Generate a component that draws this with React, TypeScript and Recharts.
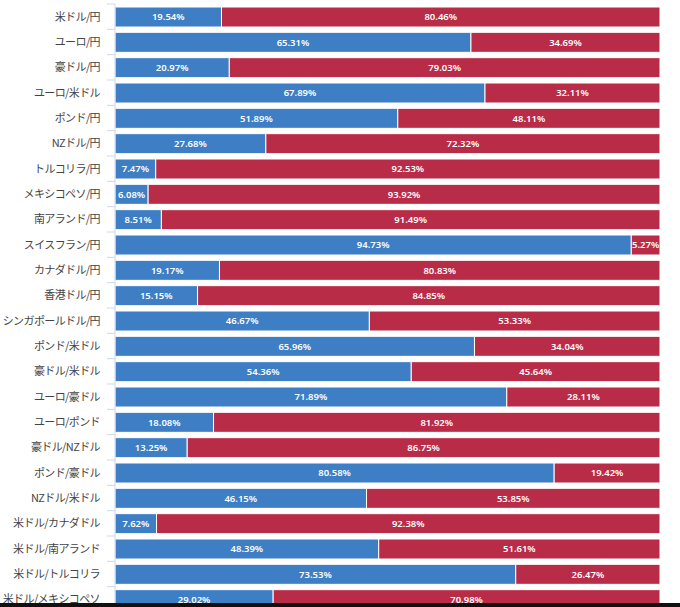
import React from 'react';
import { BarChart, Bar, XAxis, YAxis, LabelList } from 'recharts';

// currency pairs, top to bottom
const pairs = [
    '米ドル/円', 'ユーロ/円', '豪ドル/円', 'ユーロ/米ドル', 'ポンド/円', 'NZドル/円',
    'トルコリラ/円', 'メキシコペソ/円', '南アランド/円', 'スイスフラン/円', 'カナダドル/円', '香港ドル/円',
    'シンガポールドル/円', 'ポンド/米ドル', '豪ドル/米ドル', 'ユーロ/豪ドル', 'ユーロ/ポンド', '豪ドル/NZドル',
    'ポンド/豪ドル', 'NZドル/米ドル', '米ドル/カナダドル', '米ドル/南アランド', '米ドル/トルコリラ', '米ドル/メキシコペソ',
];

const buyShare = [
    19.54, 65.31, 20.97, 67.89, 51.89, 27.68,
    7.47, 6.08, 8.51, 94.73, 19.17, 15.15,
    46.67, 65.96, 54.36, 71.89, 18.08, 13.25,
    80.58, 46.15, 7.62, 48.39, 73.53, 29.02,
];

const sellShare = [
    80.46, 34.69, 79.03, 32.11, 48.11, 72.32,
    92.53, 93.92, 91.49, 5.27, 80.83, 84.85,
    53.33, 34.04, 45.64, 28.11, 81.92, 86.75,
    19.42, 53.85, 92.38, 51.61, 26.47, 70.98,
];

const WIDTH = 680;
const HEIGHT = 612;
const MARGIN = { top: 4, right: 20, bottom: 0, left: 0 };
const BAND = (HEIGHT - MARGIN.top - MARGIN.bottom) / pairs.length;

const rows = pairs.map((name, i) => ({ name, buy: buyShare[i], sell: sellShare[i] }));

const PairTick = (props: any) => {
    const { x, y, payload } = props;
    return (
        <g>
            <line x1={x - 8} x2={x} y1={y - BAND / 2} y2={y - BAND / 2} stroke="#ccd6eb" strokeWidth={1} />
            <text
                x={x - 15}
                y={y}
                dy={4}
                textAnchor="end"
                fill="#444"
                fontSize={11}
                letterSpacing={-0.6}
                fontFamily='"Noto Sans CJK JP", sans-serif'
            >
                {payload.value}
            </text>
        </g>
    );
};

const pct = (v: any) => `${Number(v).toFixed(2)}%`;

const labelStyle = {
    fill: '#fff',
    fontSize: 9.5,
    fontWeight: 600,
    fontFamily: '"Noto Sans", sans-serif',
};

const App: React.FC = () => {
    return (
        <div style={{ position: 'fixed', left: 0, top: 0, width: WIDTH, height: 607, overflow: 'hidden', background: '#fff' }}>
            <BarChart
                width={WIDTH}
                height={HEIGHT}
                data={rows}
                layout="vertical"
                margin={MARGIN}
                barSize={20}
            >
                <XAxis type="number" domain={[0, 100]} hide />
                <YAxis
                    type="category"
                    dataKey="name"
                    width={115}
                    interval={0}
                    tickSize={0}
                    tickMargin={0}
                    tickLine={false}
                    axisLine={{ stroke: '#ccd6eb' }}
                    tick={<PairTick />}
                />
                <Bar dataKey="buy" stackId="a" fill="#3d7ec4" stroke="#fff" strokeWidth={1} isAnimationActive={false}>
                    <LabelList dataKey="buy" position="center" formatter={pct} style={labelStyle} />
                </Bar>
                <Bar dataKey="sell" stackId="a" fill="#b92c48" stroke="#fff" strokeWidth={1} isAnimationActive={false}>
                    <LabelList dataKey="sell" position="center" formatter={pct} style={labelStyle} />
                </Bar>
            </BarChart>
            <div style={{ position: 'absolute', left: 0, bottom: 0, width: WIDTH, height: 4, background: '#111' }} />
        </div>
    );
};

export default App;
